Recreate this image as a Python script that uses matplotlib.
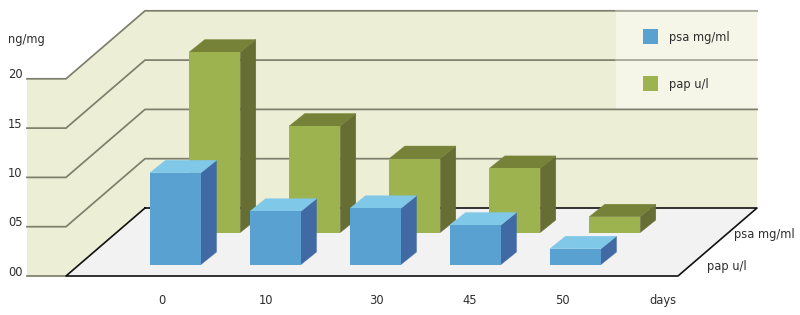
import matplotlib
matplotlib.use('Agg')
import matplotlib.pyplot as plt
from matplotlib.patches import Polygon, Rectangle

# data
days = ['0', '10', '30', '45', '50']
psa = [9.3, 5.4, 5.7, 4.0, 1.6]
pap = [18.3, 10.8, 7.5, 6.5, 1.6]
yticks = [0, 5, 10, 15, 20]
ytick_labels = ['00', '05', '10', '15', '20']

# the fake 3d frame, in pixels
px_per_unit = 49.3 / 5
y0 = 276        # value 0 on the front edge
depth_x, depth_y = 79, 68
x_front = 66
x_left = 27
x_right = 757
wall_top = y0 - 20 * px_per_unit - depth_y

plt.rcParams['font.family'] = 'DejaVu Sans'
txt = '#2e2e2e'
fs = 8.3

fig = plt.figure(figsize=(8, 3.15), dpi=100)
ax = fig.add_axes([0, 0, 1, 1])
ax.set_xlim(0, 800)
ax.set_ylim(315, 0)
ax.axis('off')


def val_y(v, base):
    return base - v * px_per_unit


def bar3d(x, base, v, w, cols, z):
    # front, side and top faces of one box
    top = val_y(v, base)
    dx, dy = 15.5, 12.5
    ax.add_patch(Polygon([(x + w, base), (x + w + dx, base - dy), (x + w + dx, top - dy), (x + w, top)],
                         fc=cols[1], ec=cols[1], lw=0.3, zorder=z))
    ax.add_patch(Polygon([(x, top), (x + dx, top - dy), (x + w + dx, top - dy), (x + w, top)],
                         fc=cols[2], ec=cols[2], lw=0.3, zorder=z))
    ax.add_patch(Rectangle((x, top), w, base - top, fc=cols[0], ec='none', zorder=z + 0.1))


# walls
top_20 = val_y(20, y0)
ax.add_patch(Polygon([(x_left, top_20), (x_front, top_20), (x_front + depth_x, wall_top),
                      (x_right, wall_top), (x_right, y0 - depth_y), (x_front, y0), (x_left, y0)],
                     fc='#ECEED5', ec='none', zorder=1))
ax.add_patch(Rectangle((616, wall_top), x_right - 616, 2 * 5 * px_per_unit,
                       fc='#F5F6E8', ec='none', zorder=1.5))

# grid lines
for v in yticks[1:]:
    yy = val_y(v, y0)
    ax.plot([x_left, x_front, x_front + depth_x, x_right], [yy, yy, yy - depth_y, yy - depth_y],
            color='#7E7E6C', lw=1.25, zorder=2, solid_joinstyle='miter')
for v in [15, 20]:
    yy = val_y(v, y0) - depth_y
    ax.plot([616, x_right], [yy, yy], color='#B4B4A8', lw=1.25, zorder=2.5)

# floor
floor = [(x_front, y0), (x_front + depth_x, y0 - depth_y), (x_right, y0 - depth_y), (678, y0)]
ax.add_patch(Polygon(floor, fc='#F3F2F2', ec='none', zorder=3))
ax.plot([x_left, x_front], [y0, y0], color='#7E7E6C', lw=1.25, zorder=3)
ax.plot([x_front + depth_x, x_right, 678, x_front, x_front + depth_x],
        [y0 - depth_y, y0 - depth_y, y0, y0, y0 - depth_y], color='#111111', lw=1.2, zorder=3.5)

# bars, back row first
green = ['#9DB350', '#666E33', '#778239']
blue = ['#59A1D0', '#4169A4', '#80C8E8']
for i, v in enumerate(pap):
    bar3d(189.3 + 100 * i, 232.5, v, 51, green, 4)
for i, v in enumerate(psa):
    bar3d(150 + 100 * i, 264.5, v, 51, blue, 5)

# text
for v, lab in zip(yticks, ytick_labels):
    ax.text(8, val_y(v, y0) - 0.5, lab, fontsize=fs, color=txt, ha='left', va='baseline')
ax.text(8, 43, 'ng/mg', fontsize=fs, color=txt, ha='left', va='baseline')
for x, lab in zip([162, 266, 376.5, 470, 562.5], days):
    ax.text(x, 304, lab, fontsize=fs, color=txt, ha='center', va='baseline')
ax.text(663, 304, 'days', fontsize=fs, color=txt, ha='center', va='baseline')
ax.text(734, 238, 'psa mg/ml', fontsize=fs, color=txt, ha='left', va='baseline')
ax.text(707, 270, 'pap u/l', fontsize=fs, color=txt, ha='left', va='baseline')

# legend
ax.add_patch(Rectangle((643, 29), 14.5, 14.5, fc=blue[0], ec='none', zorder=6))
ax.add_patch(Rectangle((643, 76), 14.5, 14.5, fc=green[0], ec='none', zorder=6))
ax.text(669, 40.7, 'psa mg/ml', fontsize=fs, color=txt, ha='left', va='baseline', zorder=6)
ax.text(669, 87.7, 'pap u/l', fontsize=fs, color=txt, ha='left', va='baseline', zorder=6)

fig.savefig('out.png', dpi=100)
